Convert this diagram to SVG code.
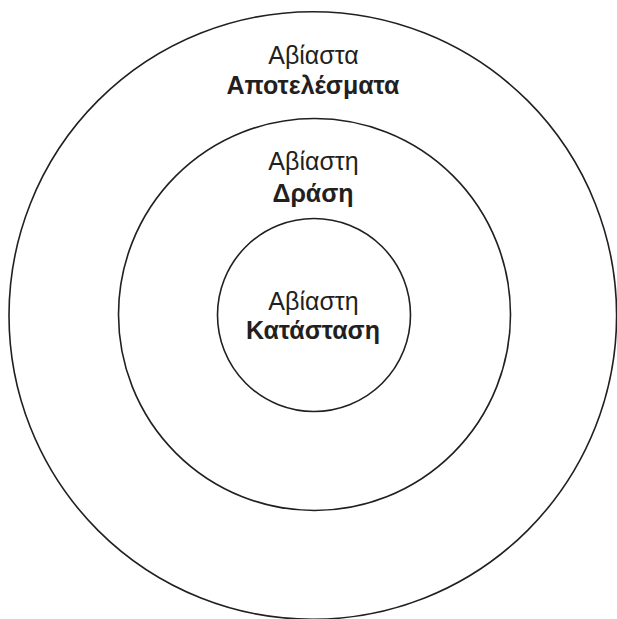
<svg xmlns="http://www.w3.org/2000/svg" width="617" height="619" viewBox="0 0 617 619">
  <style>
    .ring { fill: none; stroke: #231f20; stroke-width: 1.6; }
    .t { font-family: "Liberation Sans", Arial, sans-serif; font-size: 25px; fill: #231f20; text-anchor: middle; }
    .b { font-weight: bold; }
  </style>
  <rect width="617" height="619" fill="#ffffff"/>
  <g id="outer">
    <circle class="ring" cx="312.8" cy="315.5" r="303.8"/>
    <text class="t" x="313.5" y="64">Αβίαστα</text>
    <text class="t b" x="313" y="93.5">Αποτελέσματα</text>
  </g>
  <g id="middle">
    <circle class="ring" cx="314.5" cy="314.5" r="196"/>
    <text class="t" x="313.5" y="170">Αβίαστη</text>
    <text class="t b" x="313" y="201.5">Δράση</text>
  </g>
  <g id="inner">
    <circle class="ring" cx="314" cy="315" r="96.5"/>
    <text class="t" x="313.5" y="310">Αβίαστη</text>
    <text class="t b" x="313" y="339">Κατάσταση</text>
  </g>
  <g id="connectors"></g>
</svg>
